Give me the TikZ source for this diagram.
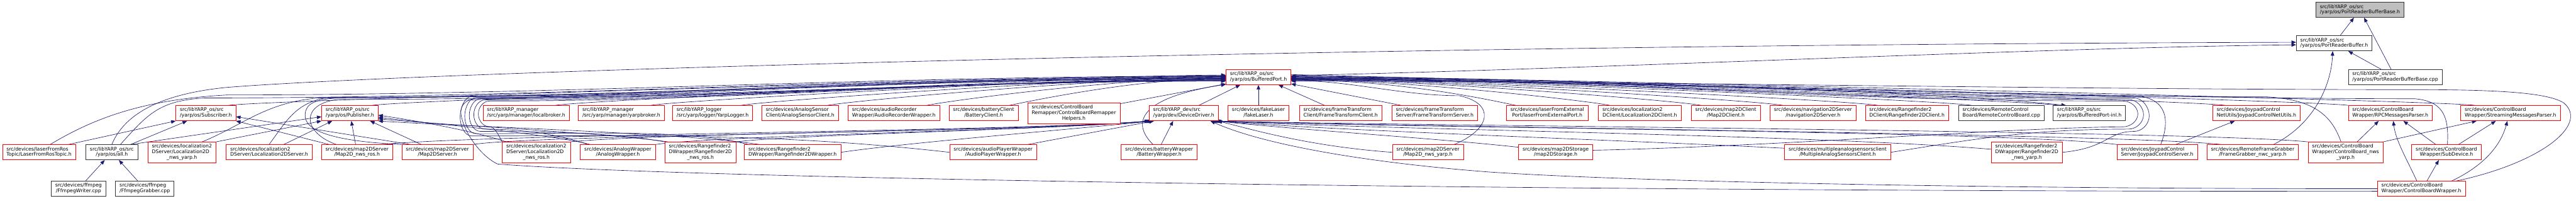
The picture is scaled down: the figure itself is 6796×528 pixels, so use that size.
\documentclass[tikz,border=0pt]{standalone}
\usepackage{fontspec}
\setmainfont{DejaVu Sans}
\usetikzlibrary{arrows.meta,calc,backgrounds}
\definecolor{EdgeClr}{rgb}{0.098,0.098,0.439}
\definecolor{RootClr}{rgb}{0.75,0.75,0.75}
\newcommand{\twoln}[2]{\begin{tabular}{@{}l@{}}#1\\\multicolumn{1}{@{}c@{}}{#2}\end{tabular}}
\newcommand{\threeln}[3]{\begin{tabular}{@{}l@{}}#1\\#2\\\multicolumn{1}{@{}c@{}}{#3}\end{tabular}}
\tikzset{
  redbox/.style={draw=red,fill=white,line width=0.8pt,inner xsep=8pt,inner ysep=2pt,minimum height=30pt,font=\fontsize{9.7}{11}\selectfont},
  blackbox/.style={redbox,draw=black!80},
  graybox/.style={blackbox,fill=RootClr},
  tall/.style={minimum height=40.5pt},
  inc/.style={draw=EdgeClr,line width=0.8pt,-{Triangle[length=9pt,width=7pt]}},
}

\begin{document}
\begin{tikzpicture}[x=0.75pt,y=0.75pt]
\useasboundingbox (0,0) rectangle (6796,-528);

\node[graybox] (prbase) at (6226,-26) {\twoln{src/libYARP\_os/src}{/yarp/os/PortReaderBufferBase.h}};
\node[blackbox] (prbuf) at (6158,-114) {\twoln{src/libYARP\_os/src}{/yarp/os/PortReaderBuffer.h}};
\node[redbox] (bport) at (3320,-203) {\twoln{src/libYARP\_os/src}{/yarp/os/BufferedPort.h}};
\node[blackbox] (prbcpp) at (6319,-203) {\twoln{src/libYARP\_os/src}{/yarp/os/PortReaderBufferBase.cpp}};

\node[redbox] (subs) at (543,-298) {\twoln{src/libYARP\_os/src}{/yarp/os/Subscriber.h}};
\node[redbox] (pub) at (923,-298) {\twoln{src/libYARP\_os/src}{/yarp/os/Publisher.h}};
\node[redbox] (lbroker) at (1388,-298) {\twoln{src/libYARP\_manager}{/src/yarp/manager/localbroker.h}};
\node[redbox] (ybroker) at (1639,-298) {\twoln{src/libYARP\_manager}{/src/yarp/manager/yarpbroker.h}};
\node[redbox] (ylogger) at (1880,-298) {\twoln{src/libYARP\_logger}{/src/yarp/logger/YarpLogger.h}};
\node[redbox] (asclient) at (2111,-298) {\twoln{src/devices/AnalogSensor}{Client/AnalogSensorClient.h}};
\node[redbox] (arecw) at (2358,-298) {\twoln{src/devices/audioRecorder}{Wrapper/AudioRecorderWrapper.h}};
\node[redbox] (bclient) at (2595,-298) {\twoln{src/devices/batteryClient}{/BatteryClient.h}};
\node[redbox,tall] (cbremap) at (2833,-298) {\threeln{src/devices/ControlBoard}{Remapper/ControlBoardRemapper}{Helpers.h}};
\node[redbox] (devdrv) at (3123,-298) {\twoln{src/libYARP\_dev/src}{/yarp/dev/DeviceDriver.h}};
\node[redbox] (flaser) at (3320,-298) {\twoln{src/devices/fakeLaser}{/fakeLaser.h}};
\node[redbox] (ftclient) at (3537,-298) {\twoln{src/devices/frameTransform}{Client/FrameTransformClient.h}};
\node[redbox] (ftserver) at (3785,-298) {\twoln{src/devices/frameTransform}{Server/FrameTransformServer.h}};
\node[redbox] (lfext) at (4082,-298) {\twoln{src/devices/laserFromExternal}{Port/laserFromExternalPort.h}};
\node[redbox] (l2dclient) at (4326,-298) {\twoln{src/devices/localization2}{DClient/Localization2DClient.h}};
\node[redbox] (m2dclient) at (4553,-298) {\twoln{src/devices/map2DClient}{/Map2DClient.h}};
\node[redbox] (n2dserver) at (4783,-298) {\twoln{src/devices/navigation2DServer}{/navigation2DServer.h}};
\node[redbox] (rfclient) at (5031,-298) {\twoln{src/devices/Rangefinder2}{DClient/Rangefinder2DClient.h}};
\node[blackbox] (rcbcpp) at (5280,-298) {\twoln{src/devices/RemoteControl}{Board/RemoteControlBoard.cpp}};
\node[blackbox] (bpinl) at (5512,-298) {\twoln{src/libYARP\_os/src}{/yarp/os/BufferedPort-inl.h}};
\node[redbox] (jnetutils) at (5953,-298) {\twoln{src/devices/JoypadControl}{NetUtils/JoypadControlNetUtils.h}};
\node[redbox] (rpcparser) at (6306,-298) {\twoln{src/devices/ControlBoard}{Wrapper/RPCMessagesParser.h}};
\node[redbox] (stparser) at (6623,-298) {\twoln{src/devices/ControlBoard}{Wrapper/StreamingMessagesParser.h}};

\node[redbox] (lfros) at (103,-401) {\twoln{src/devices/laserFromRos}{Topic/LaserFromRosTopic.h}};
\node[blackbox] (allh) at (295,-401) {\twoln{src/libYARP\_os/src}{/yarp/os/all.h}};
\node[redbox,tall] (l2dnwsyarp) at (480,-401) {\threeln{src/devices/localization2}{DServer/Localization2D}{\_nws\_yarp.h}};
\node[redbox] (l2dserver) at (710,-401) {\twoln{src/devices/localization2}{DServer/Localization2DServer.h}};
\node[redbox] (m2dnwsros) at (942,-401) {\twoln{src/devices/map2DServer}{/Map2D\_nws\_ros.h}};
\node[redbox] (m2dserver) at (1154,-401) {\twoln{src/devices/map2DServer}{/Map2DServer.h}};
\node[redbox,tall] (l2dnwsros) at (1415,-401) {\threeln{src/devices/localization2}{DServer/Localization2D}{\_nws\_ros.h}};
\node[redbox] (awrap) at (1630,-401) {\twoln{src/devices/AnalogWrapper}{/AnalogWrapper.h}};
\node[redbox,tall] (rfnwsros) at (1848,-401) {\threeln{src/devices/Rangefinder2}{DWrapper/Rangefinder2D}{\_nws\_ros.h}};
\node[redbox] (rfwrap) at (2091,-401) {\twoln{src/devices/Rangefinder2}{DWrapper/Rangefinder2DWrapper.h}};
\node[redbox] (apwrap) at (2620,-401) {\twoln{src/devices/audioPlayerWrapper}{/AudioPlayerWrapper.h}};
\node[redbox] (bwrap) at (3058,-401) {\twoln{src/devices/batteryWrapper}{/BatteryWrapper.h}};
\node[redbox] (m2dnwsyarp) at (3767,-401) {\twoln{src/devices/map2DServer}{/Map2D\_nws\_yarp.h}};
\node[redbox] (m2dstorage) at (4104,-401) {\twoln{src/devices/map2DStorage}{/map2DStorage.h}};
\node[redbox] (masclient) at (4848,-401) {\twoln{src/devices/multipleanalogsensorsclient}{/MultipleAnalogSensorsClient.h}};
\node[redbox,tall] (rfnwsyarp) at (5347,-401) {\threeln{src/devices/Rangefinder2}{DWrapper/Rangefinder2D}{\_nws\_yarp.h}};
\node[redbox] (jserver) at (5691,-401) {\twoln{src/devices/JoypadControl}{Server/JoypadControlServer.h}};
\node[redbox] (fgnwc) at (5943,-401) {\twoln{src/devices/RemoteFrameGrabber}{/FrameGrabber\_nwc\_yarp.h}};
\node[redbox,tall] (cbnwsyarp) at (6188,-401) {\threeln{src/devices/ControlBoard}{Wrapper/ControlBoard\_nws}{\_yarp.h}};
\node[redbox] (subdev) at (6454,-401) {\twoln{src/devices/ControlBoard}{Wrapper/SubDevice.h}};

\node[blackbox] (ffwriter) at (207,-497) {\twoln{src/devices/ffmpeg}{/FfmpegWriter.cpp}};
\node[blackbox] (ffgrabber) at (382,-497) {\twoln{src/devices/ffmpeg}{/FfmpegGrabber.cpp}};
\node[redbox] (cbwrapper) at (6388,-497) {\twoln{src/devices/ControlBoard}{Wrapper/ControlBoardWrapper.h}};

\begin{scope}[on background layer]
\fill[white] (0,0) rectangle (6796,-528);
% top of the graph
\draw[inc] (prbuf) -- (prbase);
\draw[inc] (prbcpp) -- (prbase);
\draw[inc] (prbcpp) -- (prbuf);
\draw[inc] (allh.north) .. controls (320,-320) and (390,-250) .. (600,-230) .. controls (1100,-190) and (3500,-118) .. ([yshift=2pt]prbuf.west);
\draw[inc] ([yshift=3pt]bport.east) .. controls (4200,-182) and (5400,-125) .. ([yshift=-3pt]prbuf.west);
\draw[inc] ([xshift=41pt]fgnwc.north) .. controls (6100,-330) and (6150,-230) .. ([xshift=-3pt]prbuf.south);
\draw[inc] (ffwriter) -- (allh);
\draw[inc] (ffgrabber) -- (allh);

% into BufferedPort.h from the left
\draw[inc] ([xshift=-15pt]subs.north east) .. controls (662,-265) and (2942,-198) .. ([yshift=4pt]bport.west);
\draw[inc] ([xshift=-12pt]pub.north east) .. controls (1042,-265) and (2942,-199) .. ([yshift=3pt]bport.west);
\draw[inc] ([xshift=-28pt]lbroker.north east) .. controls (1525,-265) and (2942,-200) .. ([yshift=2pt]bport.west);
\draw[inc] ([xshift=-27pt]ybroker.north east) .. controls (1776,-265) and (2942,-202) .. ([yshift=1pt]bport.west);
\draw[inc] ([xshift=-23pt]ylogger.north east) .. controls (2014,-265) and (2942,-203) .. (bport.west);
\draw[inc] ([xshift=-22pt]asclient.north east) .. controls (2244,-265) and (2942,-204) .. ([yshift=-1pt]bport.west);
\draw[inc] ([xshift=-26pt]arecw.north east) .. controls (2504,-265) and (2950,-206) .. ([yshift=-2pt]bport.west);
\draw[inc] ([xshift=-18pt]bclient.north east) .. controls (2723,-265) and (3000,-207) .. ([yshift=-3pt]bport.west);
\draw[inc] ([yshift=-2pt]cbremap.north east) -- ([yshift=2pt]bport.south west);
\draw[inc] ([xshift=30pt]devdrv.north) -- ([xshift=-36pt]bport.south);
\draw[inc] (flaser) -- (bport);
\draw[inc] ([xshift=22pt]lfros.north) .. controls (250,-310) and (380,-262) .. (600,-250) .. controls (1500,-250) and (2300,-200) .. ([yshift=2pt]bport.west);
\draw[inc] ([xshift=17pt]allh.north) .. controls (390,-300) and (420,-265) .. (540,-258) .. controls (1440,-258) and (2300,-202) .. ([yshift=1pt]bport.west);
\draw[inc] ([xshift=40pt]l2dnwsyarp.north) .. controls (640,-330) and (700,-270) .. (840,-258) .. controls (1740,-258) and (2300,-204) .. ([yshift=-1pt]bport.west);
\draw[inc] (l2dserver.north) .. controls (755,-320) and (780,-268) .. (870,-256) .. controls (1770,-256) and (2300,-206) .. ([yshift=-2pt]bport.west);
\draw[inc] ([xshift=-41pt]m2dnwsros.north) .. controls (800,-350) and (790,-275) .. (890,-262) .. controls (1790,-262) and (2300,-207) .. ([yshift=-3pt]bport.west);
\draw[inc] (m2dserver.north west) .. controls (880,-372) and (800,-345) .. (805,-300) .. controls (808,-272) and (830,-260) .. (910,-257) .. controls (1810,-257) and (2300,-208) .. ([yshift=-4pt]bport.west);
\draw[inc] (l2dnwsros.north west) .. controls (1315,-355) and (1305,-334) .. (1292,-334) .. controls (1275,-334) and (1262,-318) .. (1262,-300) .. controls (1262,-282) and (1275,-266) .. (1292,-266) .. controls (1992,-266) and (2500,-210) .. ([yshift=-5pt]bport.west);
\draw[inc] ([xshift=15pt]awrap.north west) .. controls (1480,-355) and (1380,-340) .. (1280,-340) .. controls (1263,-340) and (1250,-322) .. (1250,-302) .. controls (1250,-282) and (1263,-263) .. (1280,-263) .. controls (1980,-263) and (2500,-211) .. ([yshift=-6pt]bport.west);
\draw[inc] (rfnwsros.north west) .. controls (1620,-350) and (1450,-346) .. (1268,-346) .. controls (1251,-346) and (1238,-326) .. (1238,-304) .. controls (1238,-282) and (1251,-260) .. (1268,-260) .. controls (1968,-260) and (2500,-212) .. ([yshift=-7pt]bport.west);
\draw[inc] ([xshift=8pt]rfwrap.north west) .. controls (1820,-340) and (1550,-352) .. (1256,-352) .. controls (1239,-352) and (1226,-330) .. (1226,-306) .. controls (1226,-282) and (1239,-257) .. (1256,-257) .. controls (1956,-257) and (2500,-213) .. ([yshift=-7pt]bport.west);
\draw[inc] (apwrap.west) .. controls (2050,-350) and (1700,-358) .. (1244,-358) .. controls (1227,-358) and (1214,-334) .. (1214,-308) .. controls (1214,-282) and (1227,-254) .. (1244,-254) .. controls (1944,-254) and (2500,-215) .. ([yshift=-8pt]bport.west);
\draw[inc] ([yshift=-5pt]cbwrapper.west) .. controls (4000,-505) and (1800,-470) .. (1313,-432) .. controls (1275,-415) and (1230,-360) .. (1218,-310) .. controls (1210,-280) and (1225,-262) .. (1260,-258) .. controls (1960,-258) and (2500,-212) .. ([yshift=-6pt]bport.west);
\draw[inc] ([xshift=-12pt]bwrap.north) .. controls (2990,-330) and (2990,-260) .. ([yshift=1pt]bport.south west);

% into DeviceDriver.h
\draw[inc] ([xshift=-22pt]m2dnwsros.north east) .. controls (1300,-352) and (2700,-346) .. (devdrv.south west);
\draw[inc] (m2dserver.north east) .. controls (1400,-355) and (2700,-348) .. ([xshift=2pt]devdrv.south west);
\draw[inc] (l2dnwsros.north east) .. controls (1700,-352) and (2720,-344) .. ([xshift=4pt]devdrv.south west);
\draw[inc] (awrap.north east) .. controls (1900,-356) and (2740,-344) .. ([xshift=6pt]devdrv.south west);
\draw[inc] (rfnwsros.north east) .. controls (2100,-354) and (2760,-342) .. ([xshift=8pt]devdrv.south west);
\draw[inc] (rfwrap.east) .. controls (2400,-375) and (2780,-345) .. ([xshift=9pt]devdrv.south west);
\draw[inc] ([xshift=-18pt]apwrap.north east) -- ([xshift=10pt]devdrv.south west);
\draw[inc] ([xshift=4pt]bwrap.north) -- ([xshift=-21pt]devdrv.south);
\draw[inc] (m2dnwsyarp.west) .. controls (3450,-385) and (3300,-340) .. ([xshift=-2pt]devdrv.south east);
\draw[inc] ([yshift=10pt]m2dstorage.west) .. controls (3800,-365) and (3400,-340) .. ([xshift=-4pt]devdrv.south east);
\draw[inc] ([yshift=8pt]masclient.west) .. controls (4300,-370) and (3500,-343) .. ([xshift=-6pt]devdrv.south east);
\draw[inc] ([yshift=6pt]rfnwsyarp.west) .. controls (4800,-355) and (3600,-340) .. ([xshift=-8pt]devdrv.south east);
\draw[inc] (jserver.north west) .. controls (5300,-345) and (3700,-337) .. ([xshift=-10pt]devdrv.south east);
\draw[inc] ([xshift=-62pt]fgnwc.north) .. controls (5600,-352) and (3700,-334) .. ([xshift=-12pt]devdrv.south east);
\draw[inc] (cbnwsyarp.north west) .. controls (5800,-345) and (3800,-332) .. ([xshift=-14pt]devdrv.south east);
\draw[inc] (cbwrapper.west) .. controls (5200,-497) and (4300,-478) .. (3930,-453) .. controls (3600,-428) and (3330,-380) .. ([xshift=-16pt]devdrv.south east);

% into Publisher.h and Subscriber.h
\draw[inc] ([xshift=37pt]allh.north) -- ([yshift=-7pt]pub.west);
\draw[inc] (l2dnwsyarp.north east) -- (pub.south west);
\draw[inc] ([xshift=29pt]l2dserver.north) -- ([xshift=-35pt]pub.south);
\draw[inc] (m2dnwsros) -- (pub);
\draw[inc] ([xshift=-32pt]m2dserver.north) -- ([xshift=40pt]pub.south);
\draw[inc] ([xshift=8pt]l2dnwsros.north west) .. controls (1250,-345) and (1100,-318) .. ([yshift=-4pt]pub.east);
\draw[inc] ([xshift=20pt]awrap.north west) .. controls (1450,-352) and (1100,-322) .. ([yshift=-8pt]pub.east);
\draw[inc] ([xshift=6pt]rfnwsros.north west) .. controls (1600,-350) and (1150,-328) .. ([yshift=-11pt]pub.east);
\draw[inc] ([xshift=30pt]rfwrap.north west) .. controls (1800,-350) and (1200,-332) .. (pub.south east);
\draw[inc] ([xshift=58pt]lfros.north) -- (subs.south west);
\draw[inc] (allh) -- (subs);
\draw[inc] ([xshift=-55pt]m2dnwsros.north) -- (subs.south east);
\draw[inc] ([xshift=-53pt]m2dserver.north) -- ([yshift=-7pt]subs.east);

% into BufferedPort.h from the right
\draw[inc] ([xshift=50pt]ftclient.north west) -- ([xshift=-25pt]bport.south east);
\draw[inc] ([xshift=19pt]ftserver.north west) -- ([yshift=2pt]bport.south east);
\draw[inc] ([xshift=19pt]lfext.north west) .. controls (3938,-265) and (3700,-211) .. ([yshift=-6pt]bport.east);
\draw[inc] ([xshift=23pt]l2dclient.north west) .. controls (4187,-265) and (3700,-210) .. ([yshift=-5pt]bport.east);
\draw[inc] ([xshift=20pt]m2dclient.north west) .. controls (4428,-265) and (3700,-208) .. ([yshift=-4pt]bport.east);
\draw[inc] ([xshift=26pt]n2dserver.north west) .. controls (4644,-265) and (3700,-207) .. ([yshift=-3pt]bport.east);
\draw[inc] ([xshift=25pt]rfclient.north west) .. controls (4894,-265) and (3700,-206) .. ([yshift=-2pt]bport.east);
\draw[inc] ([xshift=26pt]rcbcpp.north west) .. controls (5141,-265) and (3700,-204) .. ([yshift=-1pt]bport.east);
\draw[inc] ([xshift=12pt]bpinl.north west) .. controls (5372,-265) and (3700,-203) .. (bport.east);
\draw[inc] ([yshift=5pt]bport.east) .. controls (4000,-212) and (5000,-232) .. ([xshift=26pt]bpinl.north west);
\draw[inc] ([xshift=25pt]jnetutils.north west) .. controls (5808,-265) and (3700,-202) .. ([yshift=1pt]bport.east);
\draw[inc] (rpcparser.north west) .. controls (6135,-265) and (3700,-200) .. ([yshift=2pt]bport.east);
\draw[inc] ([xshift=29pt]stparser.north west) .. controls (6470,-265) and (3700,-200) .. ([yshift=2pt]bport.east);
\draw[inc] ([xshift=52pt]m2dnwsyarp.north) .. controls (3935,-340) and (3945,-272) .. (3850,-252) .. controls (3700,-252) and (3560,-212) .. ([yshift=-7pt]bport.east);
\draw[inc] ([yshift=4pt]m2dstorage.east) .. controls (4700,-385) and (5300,-336) .. (5600,-334) .. controls (5622,-334) and (5640,-318) .. (5640,-300) .. controls (5640,-282) and (5622,-266) .. (5600,-266) .. controls (4700,-266) and (4300,-208) .. ([yshift=-4pt]bport.east);
\draw[inc] (masclient.east) .. controls (5200,-368) and (5350,-340) .. (5615,-340) .. controls (5637,-340) and (5655,-322) .. (5655,-302) .. controls (5655,-282) and (5637,-262) .. (5615,-262) .. controls (4715,-262) and (4300,-207) .. ([yshift=-3pt]bport.east);
\draw[inc] (rfnwsyarp.east) .. controls (5560,-390) and (5560,-346) .. (5630,-346) .. controls (5652,-346) and (5670,-326) .. (5670,-305) .. controls (5670,-282) and (5652,-258) .. (5630,-258) .. controls (4730,-258) and (4300,-206) .. ([yshift=-2pt]bport.east);
\draw[inc] ([xshift=7pt]jserver.north) .. controls (5720,-330) and (5725,-268) .. (5650,-254) .. controls (4750,-254) and (4300,-204) .. ([yshift=-1pt]bport.east);
\draw[inc] ([xshift=-9pt]cbnwsyarp.north) .. controls (6150,-300) and (6100,-262) .. (5980,-255) .. controls (5080,-255) and (4300,-210) .. ([yshift=-5pt]bport.east);
\draw[inc] ([xshift=2pt]subdev.north) .. controls (6462,-300) and (6440,-266) .. (6370,-260) .. controls (5470,-260) and (4300,-211) .. ([yshift=-6pt]bport.east);
\draw[inc] ([xshift=-18pt]cbwrapper.north east) .. controls (6700,-430) and (6830,-330) .. (6765,-272) .. controls (6720,-240) and (6550,-236) .. (6350,-236) .. controls (5450,-236) and (4300,-214) .. ([yshift=-8pt]bport.east);

% control board wrapper parts
\draw[inc] ([xshift=37pt]jserver.north) -- ([xshift=-43pt]jnetutils.south);
\draw[inc] ([xshift=23pt]cbnwsyarp.north) -- ([xshift=-23pt]rpcparser.south);
\draw[inc] (cbnwsyarp.north east) -- ([xshift=-67pt]stparser.south);
\draw[inc] ([xshift=-21pt]subdev.north) -- ([xshift=26pt]rpcparser.south);
\draw[inc] ([xshift=24pt]subdev.north) -- ([xshift=-29pt]stparser.south);
\draw[inc] ([xshift=-9pt]cbwrapper.north) .. controls (6350,-420) and (6320,-370) .. ([xshift=6pt]rpcparser.south);
\draw[inc] ([xshift=11pt]cbwrapper.north) -- ([xshift=-15pt]subdev.south);
\draw[inc] ([xshift=60pt]cbwrapper.north) .. controls (6545,-440) and (6595,-390) .. ([xshift=-6pt]stparser.south);
\end{scope}
\end{tikzpicture}
\end{document}
